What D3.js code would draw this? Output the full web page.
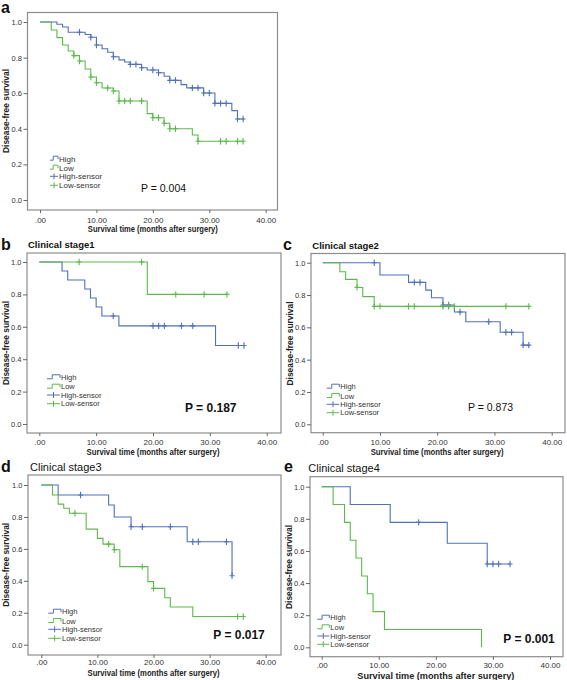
<!DOCTYPE html>
<html><head><meta charset="utf-8">
<script src="https://cdn.jsdelivr.net/npm/d3@7"></script>
<style>
body{margin:0;background:#fff}
svg{display:block;font-family:"Liberation Sans",Arial,sans-serif}
</style>
</head><body>
<svg id="chart" width="567" height="680"></svg>
<script>
// ---- tick labels / text ----
const xTickValues=[0,10,20,30,40];
const xTickLabels=[".00","10.00","20.00","30.00","40.00"];
const yTickValues=[0,0.2,0.4,0.6,0.8,1.0];
const yTickLabels=["0.0","0.2","0.4","0.6","0.8","1.0"];
const legendLabels=["High","Low","High-sensor","Low-sensor"];
const panelLetters=["a","b","c","d","e"];
const panelTitles=["","Clinical stage1","Clinical stage2","Clinical stage3","Clinical stage4"];
const pValues=["P = 0.004","P = 0.187","P = 0.873","P = 0.017","P = 0.001"];
const xTitle="Survival time (months after surgery)";
const yTitle="Disease-free survival";

// ---- panel a ----
const aHighTime=[0,3,4,5,8,9,10,11,12,13,14,15,16,18,19,21,22,23,25,26,29,31,34,35];
const aHighSurv=[1,0.987,0.972,0.942,0.93,0.914,0.871,0.85,0.83,0.805,0.787,0.775,0.762,0.743,0.73,0.715,0.695,0.672,0.648,0.63,0.601,0.543,0.502,0.455];
const aHighCens=[7,9,10,13,16,17,18,20,21,23,24,27,28,29,30,31,32,33,35,36];
const aLowTime=[0,2,3,4,5,6,7,8,9,10,11,13,14,19,20,22,23,27,28];
const aLowSurv=[1,0.955,0.912,0.871,0.837,0.811,0.781,0.736,0.691,0.659,0.629,0.612,0.556,0.485,0.462,0.431,0.40,0.365,0.33];
const aLowCens=[6,7,9,10,12,13,14,15,16,18,20,21,22,23,24,28,32,33,35,36];
// ---- panel b ----
const bHighTime=[0,4,5,8,9,10,11,14,31];
const bHighSurv=[1,0.944,0.889,0.833,0.778,0.722,0.667,0.606,0.485];
const bHighCens=[13,20,21,22,25,27,35,36];
const bLowTime=[0,19];
const bLowSurv=[1,0.8];
const bLowCens=[7,18,24,29,33];
// ---- panel c ----
const cHighTime=[0,10,15,18,19,21,23,25,31,35];
const cHighSurv=[1,0.924,0.878,0.83,0.783,0.738,0.695,0.635,0.57,0.49];
const cHighCens=[9,16,17,21,22,24,29,32,33,35,36];
const cLowTime=[0,3,4,6,7,9];
const cLowSurv=[1,0.944,0.897,0.847,0.79,0.73];
const cLowCens=[6,9,10,15,16,21,22,23,32,36];
// ---- panel d ----
const dHighTime=[0,3,12,13,16,26,34];
const dHighSurv=[1,0.937,0.875,0.80,0.739,0.645,0.432];
const dHighCens=[7,16,18,23,27,28,33,34];
const dLowTime=[0,2,3,4,5,8,10,11,13,14,19,20,22,23,27];
const dLowSurv=[1,0.937,0.88,0.854,0.823,0.724,0.666,0.63,0.595,0.489,0.395,0.353,0.294,0.236,0.177];
const dLowCens=[6,12,13,18,20,35,36];
// ---- panel e ----
const eHighTime=[0,5,12,22,29];
const eHighSurv=[1,0.889,0.778,0.648,0.519];
const eHighCens=[17,29,30,31,33];
const eLowTime=[0,2,4,5,6,7,8,9,11,28];
const eLowSurv=[1,0.889,0.778,0.667,0.556,0.444,0.333,0.222,0.111,0];
const eLowCens=[];

const BLUE="#5070b8", GREEN="#5cb94c";

const layouts=[
 {fx0:27.5,fy0:12.5,fx1:277.5,fy1:210,xr0:40,xr1:265.7,yr0:200,yr1:22,tickY:220,xTitleY:229.5,xTitleW:130,xTitleF:8.5,yTitleX:8.5,
  legX:50,legW:8,legRows:[158.7,167.7,176.3,185.3],legF:8,pX:141,pY:188,pF:10.5,pB:false,letX:1,letY:13,titleX:0,titleY:0,titleF:9.5,titleB:true},
 {fx0:27,fy0:253,fx1:281,fy1:433,xr0:39.3,xr1:266.7,yr0:424,yr1:262,tickY:441.7,xTitleY:451.7,xTitleW:133,xTitleF:8.5,yTitleX:8.5,
  legX:47,legW:13,legRows:[377.3,386.7,395,403.7],legF:7.5,pX:185,pY:407.3,pF:12,pB:true,letX:1,letY:250,titleX:28,titleY:244.7,titleF:9.5,titleB:true},
 {fx0:311,fy0:253.5,fx1:565,fy1:432.7,xr0:322.7,xr1:551.7,yr0:424.3,yr1:262.7,tickY:442.3,xTitleY:451.7,xTitleW:133,xTitleF:8.5,yTitleX:293,
  legX:326.7,legW:12.6,legRows:[386.7,396,404.3,412.7],legF:7.5,pX:468,pY:407,pF:10.5,pB:false,letX:283,letY:249.5,titleX:312.3,titleY:246,titleF:9.5,titleB:true},
 {fx0:28,fy0:475,fx1:281,fy1:655,xr0:41.3,xr1:265.7,yr0:644.7,yr1:485,tickY:661.7,xTitleY:672.7,xTitleW:132,xTitleF:8.5,yTitleX:9.3,
  legX:48.3,legW:12.7,legRows:[611.7,621,629.3,638.3],legF:7.5,pX:213.3,pY:635,pF:12,pB:true,letX:1,letY:471.7,titleX:30,titleY:466.7,titleF:11,titleB:false},
 {fx0:310,fy0:476.7,fx1:563,fy1:656.7,xr0:321.7,xr1:550,yr0:647.3,yr1:486.7,tickY:665,xTitleY:675.8,xTitleW:157,xTitleF:9.5,yTitleX:291.5,
  legX:317.3,legW:12,legRows:[617.7,627.3,636,644.3],legF:7.5,pX:503.3,pY:638.3,pF:12,pB:true,letX:284,letY:471.7,titleX:308.3,titleY:468.3,titleF:11,titleB:false}
];

const seriesByPanel=[
 [{t:aHighTime,s:aHighSurv,c:aHighCens,color:BLUE},{t:aLowTime,s:aLowSurv,c:aLowCens,color:GREEN}],
 [{t:bHighTime,s:bHighSurv,c:bHighCens,color:BLUE},{t:bLowTime,s:bLowSurv,c:bLowCens,color:GREEN}],
 [{t:cHighTime,s:cHighSurv,c:cHighCens,color:BLUE},{t:cLowTime,s:cLowSurv,c:cLowCens,color:GREEN}],
 [{t:dHighTime,s:dHighSurv,c:dHighCens,color:BLUE},{t:dLowTime,s:dLowSurv,c:dLowCens,color:GREEN}],
 [{t:eHighTime,s:eHighSurv,c:eHighCens,color:BLUE},{t:eLowTime,s:eLowSurv,c:eLowCens,color:GREEN}]
];

const svg=d3.select("#chart");

function survAt(ser,tt){
  let v=ser.s[0];
  for(let i=0;i<ser.t.length;i++){ if(ser.t[i]<=tt) v=ser.s[i]; }
  return v;
}

layouts.forEach((L,pi)=>{
  const g=svg.append("g");
  const x=d3.scaleLinear().domain([0,40]).range([L.xr0,L.xr1]);
  const y=d3.scaleLinear().domain([0,1]).range([L.yr0,L.yr1]);

  // frame
  g.append("rect").attr("x",L.fx0).attr("y",L.fy0).attr("width",L.fx1-L.fx0).attr("height",L.fy1-L.fy0)
    .attr("fill","none").attr("stroke","#8c8c8c").attr("stroke-width",1.2);

  // x axis
  const xa=g.append("g").attr("transform",`translate(0,${L.fy1})`)
    .call(d3.axisBottom(x).tickValues(xTickValues).tickFormat((d,i)=>xTickLabels[i]).tickSize(3));
  xa.select(".domain").remove();
  xa.selectAll("line").attr("stroke","#666");
  xa.selectAll("text").attr("y",L.tickY-L.fy1).attr("dy","0.35em").attr("font-size",8)
    .attr("fill","#333").attr("font-family","Liberation Sans, Arial, sans-serif");

  // y axis
  const ya=g.append("g").attr("transform",`translate(${L.fx0},0)`)
    .call(d3.axisLeft(y).tickValues(yTickValues).tickFormat((d,i)=>yTickLabels[i]).tickSize(4).tickPadding(1.5));
  ya.select(".domain").remove();
  ya.selectAll("line").attr("stroke","#666");
  ya.selectAll("text").attr("font-size",7.5).attr("fill","#333").attr("font-family","Liberation Sans, Arial, sans-serif");

  // axis titles
  g.append("text").attr("x",(L.xr0+L.xr1)/2).attr("y",L.xTitleY).attr("dy","0.35em")
    .attr("text-anchor","middle").attr("font-size",L.xTitleF).attr("font-weight","bold").attr("fill","#222")
    .attr("textLength",L.xTitleW).attr("lengthAdjust","spacingAndGlyphs").text(xTitle);
  g.append("text").attr("transform",`translate(${L.yTitleX},${(L.yr0+L.yr1)/2}) rotate(-90)`)
    .attr("text-anchor","middle").attr("font-size",8.5).attr("font-weight","bold").attr("fill","#222")
    .attr("textLength",84).attr("lengthAdjust","spacingAndGlyphs").text(yTitle);

  // curves
  const line=d3.line().x(d=>x(d[0])).y(d=>y(d[1])).curve(d3.curveStepAfter);
  seriesByPanel[pi].forEach(ser=>{
    const pts=ser.t.map((tt,i)=>[tt,ser.s[i]]);
    const end=Math.max(d3.max(ser.t), ser.c.length?d3.max(ser.c):0);
    pts.push([end,ser.s[ser.s.length-1]]);
    g.append("path").attr("d",line(pts)).attr("fill","none").attr("stroke",ser.color).attr("stroke-width",1.1);
    g.selectAll(null).data(ser.c).enter().append("path")
      .attr("d",d=>{const cx=x(d), cy=y(survAt(ser,d)); return `M${cx},${cy-3.2}V${cy+3.2}M${cx-2.5},${cy}H${cx+2.5}`;})
      .attr("stroke",ser.color).attr("stroke-width",1.1).attr("fill","none");
  });

  // legend
  const colors=[BLUE,GREEN,BLUE,GREEN];
  legendLabels.forEach((lab,i)=>{
    const ry=L.legRows[i], lx=L.legX, w=L.legW;
    let d;
    if(i<2) d=`M${lx},${ry+1.5}H${lx+w*0.4}V${ry-2.5}H${lx+w}V${ry+0.5}`;
    else d=`M${lx},${ry}H${lx+w}M${lx+w/2},${ry-3}V${ry+3}`;
    g.append("path").attr("d",d).attr("fill","none").attr("stroke",colors[i]).attr("stroke-width",1);
    g.append("text").attr("x",lx+w+1).attr("y",ry).attr("dy","0.35em").attr("font-size",L.legF).attr("fill","#333").text(lab);
  });

  // p-value
  g.append("text").attr("x",L.pX).attr("y",L.pY).attr("dy","0.35em").attr("font-size",L.pF)
    .attr("font-weight",L.pB?"bold":"normal").attr("fill","#111").text(pValues[pi]);

  // panel letter & title
  g.append("text").attr("x",L.letX).attr("y",L.letY).attr("font-size",16).attr("font-weight","bold").attr("fill","#111").text(panelLetters[pi]);
  if(panelTitles[pi]) g.append("text").attr("x",L.titleX).attr("y",L.titleY).attr("dy","0.35em")
    .attr("font-size",L.titleF).attr("font-weight",L.titleB?"bold":"normal").attr("fill","#111").text(panelTitles[pi]);
});
</script>
</body></html>
